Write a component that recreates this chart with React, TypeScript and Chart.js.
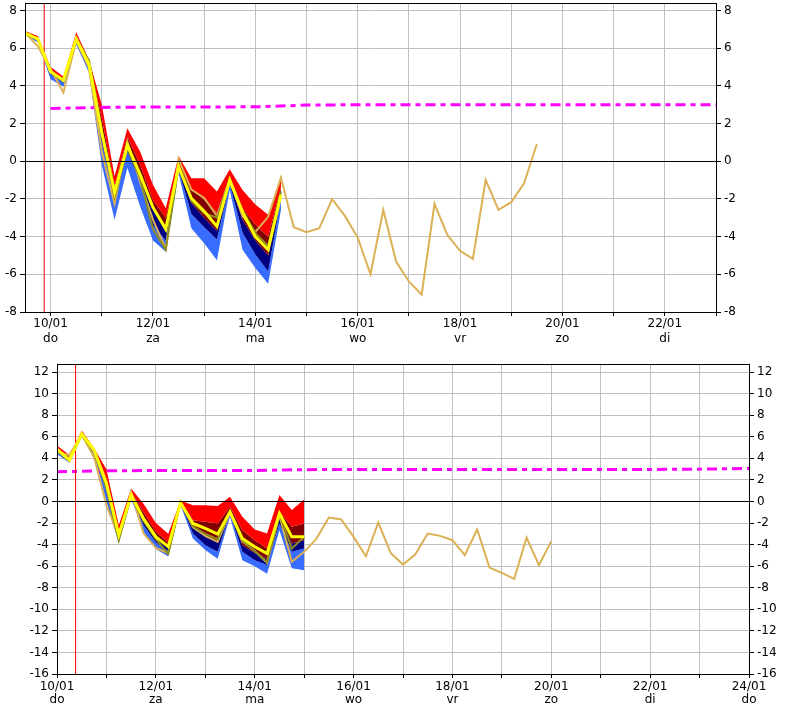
import { useEffect, useRef } from 'react';
import { Chart, registerables } from 'chart.js';

Chart.register(...registerables);

// 6-hourly forecast steps (day of month)
const topTimes = [9.5, 9.75, 10, 10.25, 10.5, 10.75, 11, 11.25, 11.5, 11.75, 12, 12.25, 12.5, 12.75, 13, 13.25, 13.5, 13.75, 14, 14.25, 14.5,
  14.75, 15, 15.25, 15.5, 15.75, 16, 16.25, 16.5, 16.75, 17, 17.25, 17.5, 17.75, 18, 18.25, 18.5, 18.75, 19, 19.25, 19.5];
const botTimes = [10, 10.25, 10.5, 10.75, 11, 11.25, 11.5, 11.75, 12, 12.25, 12.5, 12.75, 13, 13.25, 13.5, 13.75, 14, 14.25, 14.5, 14.75, 15,
  15.25, 15.5, 15.75, 16, 16.25, 16.5, 16.75, 17, 17.25, 17.5, 17.75, 18, 18.25, 18.5, 18.75, 19, 19.25, 19.5, 19.75, 20];

// top panel ensemble
const topMin = [6.72, 6.3, 4.35, 3.95, 6.2, 4.7, -0.2, -3.1, -0.35, -2.4, -4.2, -4.8, -0.64, -3.55, -4.35, -5.25, -1.52, -4.7, -5.67, -6.5, -2.6];
const topQ1 = [6.77, 6.42, 4.6, 4.2, 6.45, 5.0, 1.0, -2.0, 0.5, -1.1, -3.4, -4.2, -0.45, -2.8, -3.5, -4.15, -1.2, -3.8, -4.95, -5.85, -2.0];
const topQ2 = [6.82, 6.48, 4.75, 4.3, 6.55, 5.15, 1.6, -1.7, 0.9, -0.65, -2.5, -3.75, -0.3, -2.2, -3.0, -3.7, -1.05, -3.1, -4.2, -5.0, -1.85];
const topQ3 = [6.86, 6.55, 4.85, 4.4, 6.7, 5.3, 2.3, -1.3, 1.3, -0.2, -2.05, -3.0, 0.0, -1.45, -2.05, -2.75, -0.8, -2.5, -3.37, -4.0, -1.4];
const topMax = [6.92, 6.65, 5.0, 4.5, 6.85, 5.4, 3.0, -0.8, 1.75, 0.5, -1.25, -2.5, 0.28, -0.9, -0.9, -1.6, -0.42, -1.52, -2.3, -2.84, -0.85];
const topMean = [6.8, 6.5, 4.75, 4.3, 6.5, 5.15, 1.5, -1.65, 0.85, -0.7, -2.45, -3.6, -0.28, -1.96, -2.65, -3.46, -1.0, -2.7, -4.0, -4.7, -1.78];
const topCtrl = [6.78, 6.45, 4.7, 4.25, 6.45, 5.35, 1.7, -1.9, 0.7, -0.9, -3.6, -4.7, -0.3, -2.1, -2.75, -3.0, -1.0, -2.6, -3.8, -4.5, -1.6];
const topOper = [6.82, 6.1, 4.9, 3.65, 6.4, 4.95, 0.5, -2.25, 1.05, -1.1, -3.1, -4.65, 0.12, -1.5, -1.95, -2.9, -1.0, -2.9, -3.75, -2.95, -0.87,
  -3.5, -3.76, -3.55, -2.01, -2.9, -4.05, -6.0, -2.58, -5.32, -6.38, -7.08, -2.26, -3.9, -4.75, -5.18, -0.99, -2.58, -2.17, -1.17, 0.92];

// bottom panel ensemble
const botMin = [4.4, 3.6, 6.0, 4.3, 0.0, -3.9, 0.25, -2.8, -4.4, -5.1, -0.35, -3.44, -4.5, -5.3, -1.42, -5.45, -6.0, -6.7, -2.66, -6.2, -6.38];
const botQ1 = [4.7, 3.75, 6.15, 4.6, 1.0, -3.5, 0.45, -2.2, -3.8, -4.6, -0.2, -2.97, -4.05, -4.67, -1.1, -4.67, -5.45, -5.9, -2.04, -4.67, -4.36];
const botQ2 = [4.85, 3.9, 6.25, 4.75, 1.6, -3.2, 0.6, -1.6, -3.3, -4.2, -0.12, -2.35, -3.28, -3.75, -0.9, -4.05, -4.77, -5.3, -1.3, -3.9, -3.6];
const botQ3 = [5.0, 4.1, 6.4, 4.85, 2.2, -2.9, 0.9, -1.0, -2.8, -3.8, 0.0, -1.73, -1.89, -2.04, -0.5, -2.66, -3.6, -4.36, -0.96, -2.35, -2.04];
const botMax = [5.2, 4.3, 6.55, 4.95, 3.0, -2.2, 1.2, -0.2, -2.0, -3.0, 0.1, -0.34, -0.34, -0.43, 0.43, -1.42, -2.6, -2.97, 0.59, -0.8, 0.19];
const botMean = [4.85, 3.85, 6.25, 4.77, 1.7, -3.1, 0.6, -1.58, -3.28, -4.2, -0.12, -2.04, -2.5, -3.03, -0.96, -3.44, -4.2, -4.83, -1.1, -3.28, -3.28];
const botCtrl = [4.7, 3.75, 6.2, 4.6, 1.2, -3.6, 0.5, -1.8, -3.5, -4.85, -0.1, -2.3, -3.0, -3.5, -0.9, -3.6, -4.6, -5.6, -1.2, -4.36, -3.28];
const botOper = [4.6, 4.3, 6.2, 4.1, -0.35, -3.3, 0.9, -2.95, -4.3, -4.8, 0.0, -2.4, -3.2, -3.75, -1.0, -3.7, -4.6, -5.7, -1.3, -5.6, -4.67,
  -3.44, -1.49, -1.67, -3.28, -5.08, -1.95, -4.77, -5.85, -4.9, -2.97, -3.19, -3.59, -4.98, -2.6, -6.13, -6.63, -7.18, -3.34, -5.9, -3.68];

// climate line (daily)
const climDays = [10, 11, 12, 13, 14, 15, 16, 17, 18, 19, 20, 21, 22, 23, 24];
const climTop = [2.8, 2.86, 2.88, 2.88, 2.89, 2.98, 3.0, 3.0, 3.0, 3.0, 3.0, 3.0, 3.0, 3.0];
const climBot = [2.75, 2.85, 2.87, 2.88, 2.88, 2.95, 2.97, 2.97, 2.97, 2.97, 2.97, 2.97, 2.97, 3.0, 3.06];

// analysis time markers
const topNow = 9.875;
const botNow = 10.375;

// axes
const gridDays = [10, 11, 12, 13, 14, 15, 16, 17, 18, 19, 20, 21, 22, 23, 24];
const labelDays = [10, 12, 14, 16, 18, 20, 22, 24];
const dateLabels = ['10/01', '12/01', '14/01', '16/01', '18/01', '20/01', '22/01', '24/01'];
const weekdayLabels = ['do', 'za', 'ma', 'wo', 'vr', 'zo', 'di', 'do'];
const topYTicks = [-8, -6, -4, -2, 0, 2, 4, 6, 8];
const botYTicks = [-16, -14, -12, -10, -8, -6, -4, -2, 0, 2, 4, 6, 8, 10, 12];

const FONT = "'DejaVu Sans', sans-serif";

const pts = (xs: number[], ys: number[]) => ys.map((y, i) => ({ x: xs[i], y }));

const framePlugin = {
  id: 'frame',
  afterDatasetsDraw(chart: any) {
    const { ctx, chartArea: a, scales } = chart;
    ctx.save();
    ctx.strokeStyle = '#000';
    ctx.lineWidth = 1;
    const y0 = Math.round(scales.y.getPixelForValue(0)) + 0.5;
    ctx.beginPath();
    ctx.moveTo(a.left, y0);
    ctx.lineTo(a.right, y0);
    ctx.stroke();
    ctx.strokeRect(Math.round(a.left) + 0.5, Math.round(a.top) + 0.5, Math.round(a.right - a.left), Math.round(a.bottom - a.top));
    ctx.restore();
  },
};

interface PlumeProps {
  height: number;
  times: number[];
  mn: number[];
  q1: number[];
  q2: number[];
  q3: number[];
  mx: number[];
  mean: number[];
  ctrl: number[];
  oper: number[];
  clim: number[];
  now: number;
  xMin: number;
  xMax: number;
  yMin: number;
  yMax: number;
  yTicks: number[];
  padTop: number;
  leftW: number;
  rightW: number;
  bottomH: number;
  labelPad: number;
  lineHeight: number;
}

function PlumeChart(p: PlumeProps) {
  const chartRef = useRef<HTMLCanvasElement>(null);
  const chartInstance = useRef<Chart | null>(null);

  useEffect(() => {
    if (!chartRef.current) return;
    if (chartInstance.current) chartInstance.current.destroy();

    const band = (data: number[], color: string | false, order: number) => ({
      data: pts(p.times, data),
      borderWidth: 0,
      borderColor: 'rgba(0,0,0,0)',
      backgroundColor: color || 'rgba(0,0,0,0)',
      fill: color ? '-1' : false,
      pointRadius: 0,
      order,
    });
    const line = (data: any[], color: string, width: number, order: number, dash: number[] = []) => ({
      data,
      borderColor: color,
      borderWidth: width,
      borderDash: dash,
      fill: false,
      pointRadius: 0,
      order,
    });

    const yAxis = (position: string, width: number, onArea: boolean) => ({
      type: 'linear',
      position,
      min: p.yMin,
      max: p.yMax,
      afterBuildTicks: (s: any) => {
        s.ticks = p.yTicks.map((v) => ({ value: v }));
      },
      afterFit: (s: any) => {
        s.width = width;
        s.paddingTop = 0;
        s.paddingBottom = 0;
      },
      grid: {
        drawOnChartArea: onArea,
        color: (c: any) => (c.tick && c.tick.value === 0 ? '#000' : '#c0c0c0'),
        tickColor: '#000',
        tickLength: 5,
      },
      border: { display: false },
      ticks: { font: { family: FONT, size: 12 }, color: '#000', padding: 3 },
    });

    chartInstance.current = new Chart(chartRef.current, {
      type: 'line',
      data: {
        datasets: [
          band(p.mn, false, 20),
          band(p.q1, '#386cff', 19),
          band(p.q2, '#000080', 18),
          band(p.q3, '#800000', 17),
          band(p.mx, '#ff0000', 16),
          line(pts(climDays, p.clim), '#ff00ff', 3, 5, [10, 5, 5, 5]),
          line([{ x: p.now, y: p.yMin }, { x: p.now, y: p.yMax }], '#ff0000', 1, 4),
          line(pts(p.times, p.oper), '#dcb055', 2, 3),
          line(pts(p.times, p.ctrl), '#8c8c1e', 2, 2),
          line(pts(p.times, p.mean), '#ffff00', 3, 1),
        ] as any,
      },
      options: {
        responsive: false,
        animation: false,
        layout: { padding: { top: p.padTop, left: 0, right: 0, bottom: 0 } },
        plugins: { legend: { display: false }, tooltip: { enabled: false } },
        elements: { line: { tension: 0 } },
        scales: {
          x: {
            type: 'linear',
            min: p.xMin,
            max: p.xMax,
            afterBuildTicks: (s: any) => {
              s.ticks = gridDays.filter((d) => d >= p.xMin && d <= p.xMax).map((v) => ({ value: v }));
            },
            afterFit: (s: any) => {
              s.height = p.bottomH;
              s.paddingLeft = 0;
              s.paddingRight = 0;
            },
            grid: { color: '#c0c0c0', tickColor: '#000', tickLength: 4 },
            border: { display: false },
            ticks: {
              autoSkip: false,
              maxRotation: 0,
              padding: p.labelPad,
              color: '#000',
              font: { family: FONT, size: 12, lineHeight: p.lineHeight },
              callback: (v: any) => {
                const i = labelDays.indexOf(Number(v));
                return i >= 0 ? [dateLabels[i], weekdayLabels[i]] : '';
              },
            },
          },
          y: yAxis('left', p.leftW, true),
          yRight: yAxis('right', p.rightW, false),
        } as any,
      },
      plugins: [framePlugin],
    });

    return () => {
      if (chartInstance.current) {
        chartInstance.current.destroy();
        chartInstance.current = null;
      }
    };
  }, []);

  return <canvas ref={chartRef} width={792} height={p.height} style={{ display: 'block', width: 792, height: p.height }} />;
}

export default function App() {
  return (
    <div style={{ position: 'absolute', left: 0, top: 0, width: 792, height: 723, background: '#fff' }}>
      <div style={{ position: 'absolute', left: 0, top: 0 }}>
        <PlumeChart
          height={350}
          times={topTimes}
          mn={topMin} q1={topQ1} q2={topQ2} q3={topQ3} mx={topMax}
          mean={topMean} ctrl={topCtrl} oper={topOper} clim={climTop}
          now={topNow}
          xMin={9.5} xMax={23} yMin={-8} yMax={8.4} yTicks={topYTicks}
          padTop={3} leftW={25} rightW={76} bottomH={38} labelPad={0} lineHeight={1.25}
        />
      </div>
      <div style={{ position: 'absolute', left: 0, top: 350 }}>
        <PlumeChart
          height={373}
          times={botTimes}
          mn={botMin} q1={botQ1} q2={botQ2} q3={botQ3} mx={botMax}
          mean={botMean} ctrl={botCtrl} oper={botOper} clim={climBot}
          now={botNow}
          xMin={10} xMax={24} yMin={-16} yMax={12.75} yTicks={botYTicks}
          padTop={14} leftW={57} rightW={43} bottomH={49} labelPad={2} lineHeight={1.1}
        />
      </div>
    </div>
  );
}
